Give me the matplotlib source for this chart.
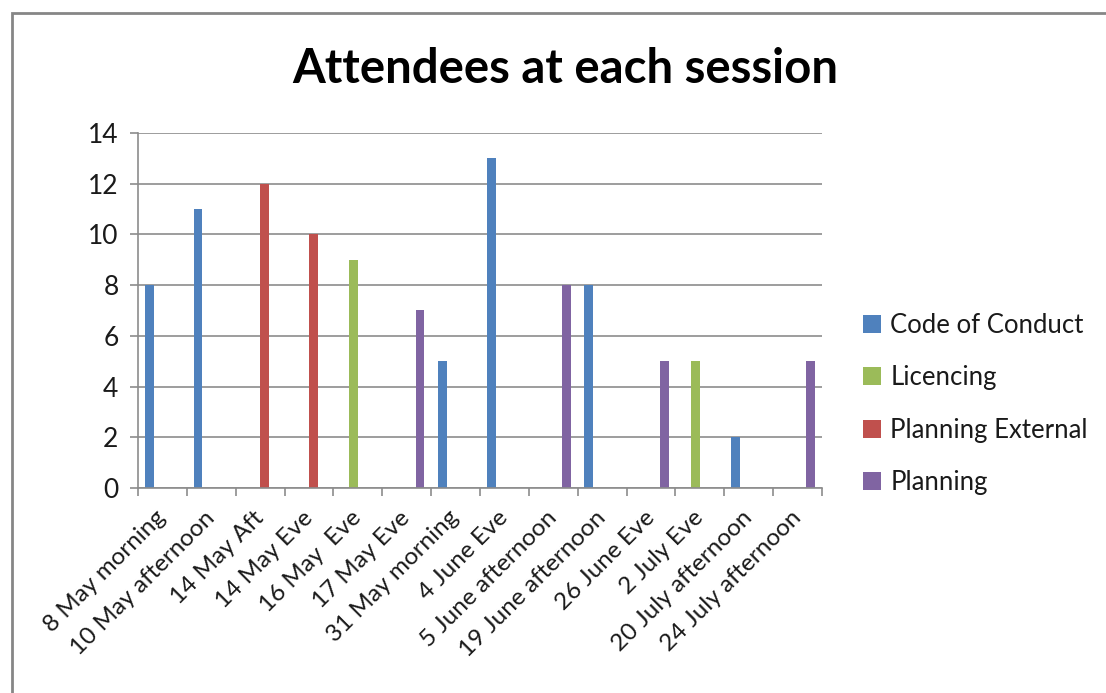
import matplotlib
matplotlib.use("Agg")
import matplotlib.pyplot as plt
import numpy as np
from matplotlib.patches import Rectangle

categories = ["8 May morning", "10 May afternoon", "14 May Aft", "14 May Eve",
              "16 May  Eve", "17 May Eve", "31 May morning", "4 June Eve",
              "5 June afternoon", "19 June afternoon", "26 June Eve", "2 July Eve",
              "20 July afternoon", "24 July afternoon"]
series_names = ["Code of Conduct", "Licencing", "Planning External", "Planning"]
code_of_conduct = [8, 11, 0, 0, 0, 0, 5, 13, 0, 8, 0, 0, 2, 0]
licencing = [0, 0, 0, 0, 9, 0, 0, 0, 0, 0, 0, 5, 0, 0]
planning_external = [0, 0, 12, 10, 0, 0, 0, 0, 0, 0, 0, 0, 0, 0]
planning = [0, 0, 0, 0, 0, 7, 0, 0, 8, 0, 5, 0, 0, 5]
colors = ["#4F81BD", "#9BBB59", "#C0504D", "#8064A2"]
yticks = [0, 2, 4, 6, 8, 10, 12, 14]

plt.rcParams['font.family'] = ['Lato', 'DejaVu Sans']

W, H = 1106, 693
fig = plt.figure(figsize=(W / 100, H / 100), dpi=100)
fig.patch.set_facecolor("white")

# outer frame
fig.patches.append(Rectangle((12 / W, -0.1), 1.2, 1 - 13 / H + 0.1,
                             transform=fig.transFigure, fill=False,
                             edgecolor="#868686", linewidth=2))

ax = fig.add_axes([138 / W, 1 - 488 / H, (822 - 138) / W, (488 - 133) / H])

x = np.arange(len(categories))
w = 1 / 5.5
all_series = [code_of_conduct, licencing, planning_external, planning]
for i, (name, vals, c) in enumerate(zip(series_names, all_series, colors)):
    ax.bar(x + (i - 1.5) * w, vals, width=w, color=c, label=name, linewidth=0)

ax.set_xlim(-0.5, len(categories) - 0.5)
ax.set_ylim(0, 14)
ax.set_yticks(yticks)
ax.set_yticklabels([str(v) for v in yticks], fontsize=19, color="#1a1a1a")
ax.yaxis.grid(True, color="#8c8c8c", linewidth=1.2)
ax.set_axisbelow(True)

ax.set_xticks(x)
ax.set_xticklabels(categories, rotation=45, ha="right", va="center",
                   rotation_mode="anchor", fontsize=17.5, color="#1a1a1a")
ax.tick_params(axis="x", which="major", length=0, pad=19)
ax.set_xticks(np.arange(-0.5, len(categories)), minor=True)
ax.tick_params(axis="x", which="minor", length=6, color="#8c8c8c", width=1.2)
ax.tick_params(axis="y", length=6, color="#8c8c8c", width=1.2, pad=8)

for s in ["top", "right"]:
    ax.spines[s].set_visible(False)
for s in ["left", "bottom"]:
    ax.spines[s].set_color("#8c8c8c")
    ax.spines[s].set_linewidth(1.2)

fig.text(565 / W, 1 - 69 / H, "Attendees at each session", ha="center",
         va="center", fontsize=34, fontweight="bold", color="black")

ax.legend(loc="center left", bbox_to_anchor=(853 / W, 1 - 404 / H),
          bbox_transform=fig.transFigure, frameon=False, fontsize=18.5,
          handlelength=0.7, handleheight=0.7, handletextpad=0.35,
          labelspacing=1.06, borderaxespad=0, labelcolor="#1a1a1a")

fig.savefig("out.png", dpi=100, facecolor="white")
